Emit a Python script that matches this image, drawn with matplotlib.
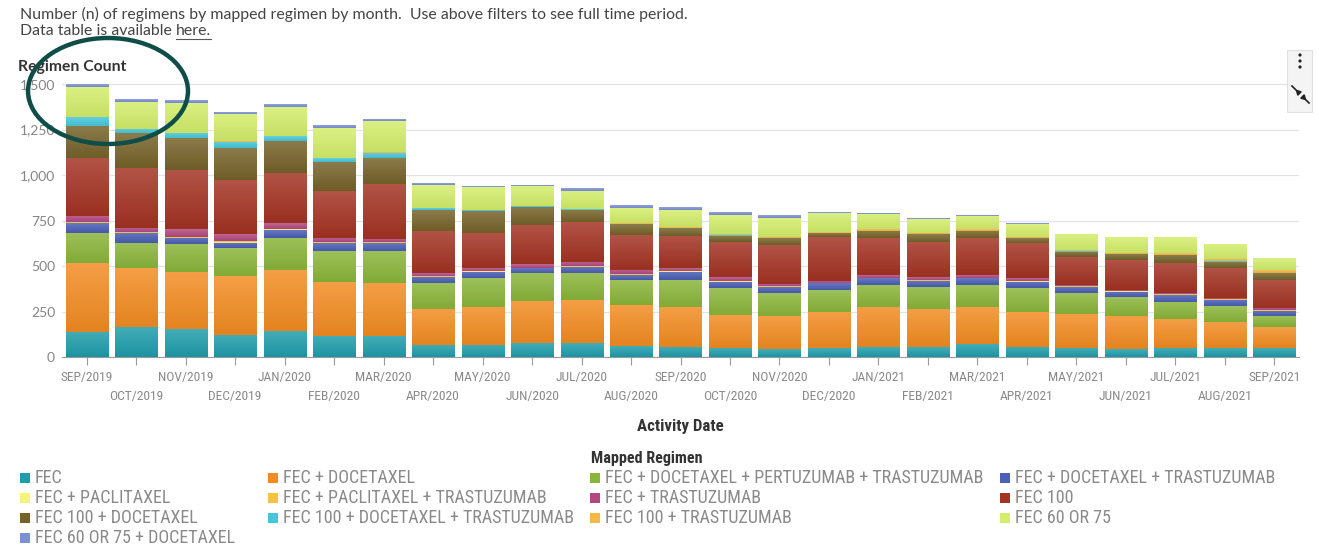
import numpy as np
import matplotlib
matplotlib.use("Agg")
import matplotlib.pyplot as plt
from matplotlib import font_manager
from matplotlib.patches import Ellipse, Rectangle
from matplotlib.lines import Line2D
from matplotlib.colors import LinearSegmentedColormap, to_rgb

# =====================================================
# data
# =====================================================
months = ["SEP/2019", "OCT/2019", "NOV/2019", "DEC/2019", "JAN/2020", "FEB/2020",
          "MAR/2020", "APR/2020", "MAY/2020", "JUN/2020", "JUL/2020", "AUG/2020",
          "SEP/2020", "OCT/2020", "NOV/2020", "DEC/2020", "JAN/2021", "FEB/2021",
          "MAR/2021", "APR/2021", "MAY/2021", "JUN/2021", "JUL/2021", "AUG/2021",
          "SEP/2021"]

regimens = ["FEC", "FEC + DOCETAXEL", "FEC + DOCETAXEL + PERTUZUMAB + TRASTUZUMAB",
            "FEC + DOCETAXEL + TRASTUZUMAB", "FEC + PACLITAXEL",
            "FEC + PACLITAXEL + TRASTUZUMAB", "FEC + TRASTUZUMAB", "FEC 100",
            "FEC 100 + DOCETAXEL", "FEC 100 + DOCETAXEL + TRASTUZUMAB",
            "FEC 100 + TRASTUZUMAB", "FEC 60 OR 75", "FEC 60 OR 75 + DOCETAXEL"]

fec = [139, 167, 152, 121, 145, 115, 115, 66, 66, 75, 75, 60, 57, 48, 42, 48, 53, 53, 71, 57, 48, 42, 48, 48, 48]
fec_doc = [379, 320, 313, 324, 333, 299, 290, 196, 210, 233, 238, 226, 219, 183, 183, 201, 220, 209, 202, 192, 188, 183, 159, 146, 115]
fec_doc_pert_tras = [165, 138, 154, 152, 178, 168, 177, 146, 156, 152, 150, 137, 147, 146, 125, 119, 123, 124, 123, 128, 117, 103, 97, 86, 62]
fec_doc_tras = [52, 55, 33, 31, 42, 43, 43, 33, 37, 27, 33, 28, 46, 37, 36, 37, 36, 33, 36, 37, 33, 31, 37, 33, 29]
fec_pac = [3, 2, 3, 3, 3, 2, 2, 1, 1, 1, 1, 1, 1, 1, 1, 1, 1, 1, 1, 1, 1, 1, 1, 1, 1]
fec_pac_tras = [5, 4, 5, 5, 5, 4, 4, 3, 3, 2, 3, 3, 2, 2, 2, 2, 2, 2, 2, 2, 2, 2, 2, 2, 2]
fec_tras = [33, 24, 43, 38, 28, 25, 17, 15, 14, 19, 22, 23, 15, 21, 12, 11, 16, 16, 16, 15, 8, 6, 6, 6, 11]
fec100 = [316, 327, 324, 299, 275, 256, 301, 234, 192, 216, 218, 192, 178, 196, 214, 242, 201, 196, 201, 193, 154, 165, 168, 169, 155]
fec100_doc = [179, 192, 174, 177, 178, 161, 146, 114, 125, 101, 68, 59, 42, 33, 37, 19, 42, 40, 40, 27, 28, 31, 42, 33, 37]
fec100_doc_tras = [46, 22, 28, 33, 27, 19, 28, 8, 3, 3, 5, 3, 2, 1, 1, 1, 1, 1, 1, 1, 1, 1, 1, 1, 1]
fec100_tras = [2, 2, 2, 2, 2, 2, 2, 3, 2, 2, 2, 3, 5, 8, 8, 5, 6, 6, 8, 8, 8, 8, 9, 13, 17]
fec60_75 = [163, 150, 166, 150, 156, 162, 173, 126, 123, 109, 99, 82, 94, 104, 101, 107, 85, 76, 74, 68, 86, 83, 86, 77, 64]
fec60_75_doc = [14, 13, 15, 9, 11, 11, 10, 9, 2, 2, 13, 13, 12, 13, 13, 2, 2, 2, 2, 2, 0, 0, 0, 0, 0]

series = [fec, fec_doc, fec_doc_pert_tras, fec_doc_tras, fec_pac, fec_pac_tras,
          fec_tras, fec100, fec100_doc, fec100_doc_tras, fec100_tras, fec60_75,
          fec60_75_doc]

colors = ["#1f9dab", "#f28c22", "#8ab53a", "#4a5fb5", "#f4f37c", "#f3c443",
          "#b2487f", "#a33323", "#76632a", "#46c7d9", "#f4b844", "#d3ee6b",
          "#7b90d4"]

y_ticks = [0, 250, 500, 750, 1000, 1250, 1500]

# =====================================================
# fonts
# =====================================================
avail = {f.name for f in font_manager.fontManager.ttflist}

def pick(*names):
    for n in names:
        if n in avail:
            return n
    return "DejaVu Sans"

body_font = pick("Lato", "Open Sans", "DejaVu Sans")
narrow_font = pick("Roboto Condensed", "Liberation Sans Narrow", "Open Sans Condensed")
if narrow_font == "DejaVu Sans":
    narrow_font = body_font
    tick_fs, leg_fs = 8.2, 11.4
else:
    tick_fs, leg_fs = 9.7, 13

plt.rcParams["font.family"] = [body_font, "DejaVu Sans"]
narrow = [narrow_font, "DejaVu Sans"]

W, H = 1319, 549
fig = plt.figure(figsize=(W / 100, H / 100), dpi=100)

def fx(px):
    return px / W

def fy(py):
    return 1 - py / H

def shade(c, k):
    r = np.array(to_rgb(c))
    if k >= 0:
        return tuple(r + (1 - r) * k)
    return tuple(r * (1 + k))

# =====================================================
# axes + bars
# =====================================================
ax_left, ax_right, ax_top, ax_bot = 62, 1299, 80, 357
ax = fig.add_axes([fx(ax_left), fy(ax_bot), fx(ax_right - ax_left), (ax_bot - ax_top) / H])

x = np.arange(len(months))
bottom = np.zeros(len(months))
grad = np.linspace(0, 1, 64).reshape(-1, 1)
for vals, col in zip(series, colors):
    bars = ax.bar(x, vals, width=0.85, bottom=bottom, color=col, edgecolor="none", zorder=3)
    cmap = LinearSegmentedColormap.from_list("g", [shade(col, -0.06), shade(col, 0.16)])
    for b in bars:
        if b.get_height() <= 0:
            continue
        x0, y0, w, hh = b.get_x(), b.get_y(), b.get_width(), b.get_height()
        ax.imshow(grad, extent=[x0, x0 + w, y0, y0 + hh], origin="lower", cmap=cmap,
                  aspect="auto", interpolation="bilinear", zorder=3.5)
    bottom += np.array(vals)

ax.set_xlim(-0.5, len(months) - 0.5)
ax.set_ylim(0, 1522)
ax.set_yticks(y_ticks)
ax.set_yticklabels([f"{v:,}" for v in y_ticks], fontsize=10, color="#858585")
ax.tick_params(axis="y", length=0, pad=5)
ax.grid(axis="y", color="#e4e4e4", linewidth=0.9, zorder=0)

# two rows of month labels: even months on top row, odd months below
ax.set_xticks(x[::2])
ax.set_xticklabels(months[::2], fontsize=tick_fs, color="#8a8a8a", family=narrow)
ax.set_xticks(x[1::2], minor=True)
ax.set_xticklabels(months[1::2], minor=True, fontsize=tick_fs, color="#8a8a8a", family=narrow)
ax.tick_params(axis="x", which="major", length=6, color="#9a9a9a", width=0.8, pad=4)
ax.tick_params(axis="x", which="minor", length=6, color="#9a9a9a", width=0.8, pad=18)

for s in ["top", "right", "left"]:
    ax.spines[s].set_visible(False)
ax.spines["bottom"].set_color("#9a9a9a")
ax.spines["bottom"].set_linewidth(0.8)

# =====================================================
# texts
# =====================================================
fig.text(fx(20), fy(14), "Number (n) of regimens by mapped regimen by month.  Use above filters to see full time period.",
         fontsize=11.4, color="#444444", va="center")
t = fig.text(fx(20), fy(31), "Data table is available ", fontsize=11.4, color="#444444", va="center")
fig.canvas.draw()
rend = fig.canvas.get_renderer()
bb = t.get_window_extent(rend)
h = fig.text(bb.x1 / W, fy(31), "here.", fontsize=11.4, color="#444444", va="center")
hb = h.get_window_extent(rend)
fig.add_artist(Line2D([hb.x0 / W, hb.x1 / W], [fy(39), fy(39)], color="#555555", linewidth=0.8))

fig.text(fx(18), fy(67), "Regimen Count", fontsize=11.3, fontweight="bold", color="#333333", va="center")
fig.text(fx(680), fy(426), "Activity Date", fontsize=12.2, fontweight="bold", color="#333333",
         ha="center", va="center", family=narrow)

# =====================================================
# legend
# =====================================================
fig.text(fx(647), fy(458), "Mapped Regimen", fontsize=11.6, fontweight="bold", color="#333333",
         ha="center", va="center", family=narrow)
col_x = [20, 268, 590, 1000]
row_y = [478, 498, 518, 538]
for i, (name, col) in enumerate(zip(regimens, colors)):
    cx = col_x[i % 4]
    ry = row_y[i // 4]
    fig.add_artist(Rectangle((fx(cx), fy(ry + 5)), fx(10), 10 / H, facecolor=col, edgecolor="none"))
    fig.text(fx(cx + 15), fy(ry), name, fontsize=leg_fs, color="#8a8a8a", va="center", family=narrow)

# =====================================================
# marker circle + corner icon
# =====================================================
fig.add_artist(Ellipse((fx(108), fy(91)), fx(160), 106 / H, fill=False,
                       edgecolor="#0f4d48", linewidth=3.2, zorder=10))

fig.add_artist(Rectangle((fx(1287), fy(112)), fx(25), 62 / H, facecolor="#f4f4f4",
                         edgecolor="#e0e0e0", linewidth=0.8, zorder=5))
for dy in [55, 61, 67]:
    fig.add_artist(Ellipse((fx(1300), fy(dy)), fx(3.2), 3.2 / H, facecolor="#222222",
                           edgecolor="none", zorder=6))
fig.add_artist(Line2D([fx(1292), fx(1298)], [fy(86), fy(92)], color="#222222", linewidth=1.2, zorder=6))
fig.add_artist(Line2D([fx(1303), fx(1309)], [fy(97), fy(103)], color="#222222", linewidth=1.2, zorder=6))
fig.add_artist(Line2D([fx(1298)], [fy(92)], marker=(3, 0, 45), markersize=4, color="#222222", zorder=6))
fig.add_artist(Line2D([fx(1303)], [fy(97)], marker=(3, 0, 225), markersize=4, color="#222222", zorder=6))

fig.savefig("out.png", dpi=100)
